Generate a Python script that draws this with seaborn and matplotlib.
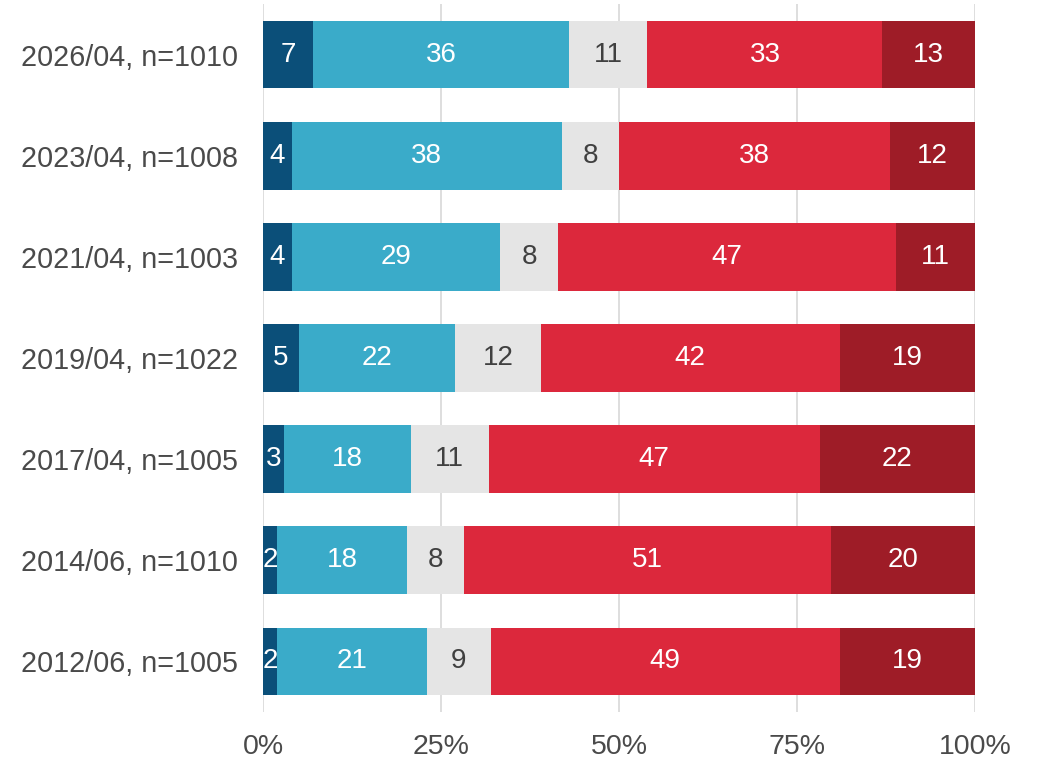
import numpy as np
import pandas as pd
import matplotlib.pyplot as plt
import seaborn as sns

# Umfragewellen (oben nach unten)
waves = ["2026/04, n=1010", "2023/04, n=1008", "2021/04, n=1003", "2019/04, n=1022",
         "2017/04, n=1005", "2014/06, n=1010", "2012/06, n=1005"]

# Anteile in % je Antwortkategorie
cat1 = [7, 4, 4, 5, 3, 2, 2]
cat2 = [36, 38, 29, 22, 18, 18, 21]
cat3 = [11, 8, 8, 12, 11, 8, 9]
cat4 = [33, 38, 47, 42, 47, 51, 49]
cat5 = [13, 12, 11, 19, 22, 20, 19]

colors = ["#0b4f79", "#3aabc9", "#e5e5e5", "#dc283c", "#9e1c27"]
txt_colors = ["white", "white", "#404040", "white", "white"]

df = pd.DataFrame({"wave": waves, "c1": cat1, "c2": cat2, "c3": cat3, "c4": cat4, "c5": cat5})
cols = ["c1", "c2", "c3", "c4", "c5"]
tot = df[cols].sum(axis=1)
share = df[cols].div(tot, axis=0) * 100
cum = share.cumsum(axis=1)

sns.set_style("white")
plt.rcParams["font.family"] = ["Liberation Sans", "DejaVu Sans"]

fig = plt.figure(figsize=(10.38, 7.59), dpi=100)
ax = fig.add_axes([0.2534, 0.0619, 0.6859, 0.9328])

# gestapelt: von hinten (groesste Summe) nach vorne zeichnen
for i in range(len(cols) - 1, -1, -1):
    tmp = pd.DataFrame({"wave": df["wave"], "x": cum[cols[i]]})
    sns.barplot(data=tmp, x="x", y="wave", color=colors[i], width=0.67,
                saturation=1, orient="h", ax=ax, zorder=2, linewidth=0)

# Beschriftungen mittig in den Segmenten
for i, c in enumerate(cols):
    mid = cum[c] - share[c] / 2
    for r in range(len(df)):
        ax.text(mid[r], r, str(df[c][r]), ha="center", va="center",
                fontsize=20, color=txt_colors[i], zorder=3)

ax.set_xlim(0, 100)
ax.set_ylim(6.5, -0.5)
ax.set_xticks([0, 25, 50, 75, 100])
ax.set_xticklabels(["0%", "25%", "50%", "75%", "100%"])
ax.xaxis.grid(True, color="#dedede", linewidth=1.4, zorder=0)
ax.set_axisbelow(True)
ax.set_xlabel("")
ax.set_ylabel("")
ax.tick_params(axis="x", labelsize=20.5, colors="#4a4a4a", length=0, pad=16)
ax.tick_params(axis="y", labelsize=20.7, colors="#4a4a4a", length=0, pad=18)
sns.despine(ax=ax, left=True, bottom=True)

plt.savefig("out.png", dpi=100)
